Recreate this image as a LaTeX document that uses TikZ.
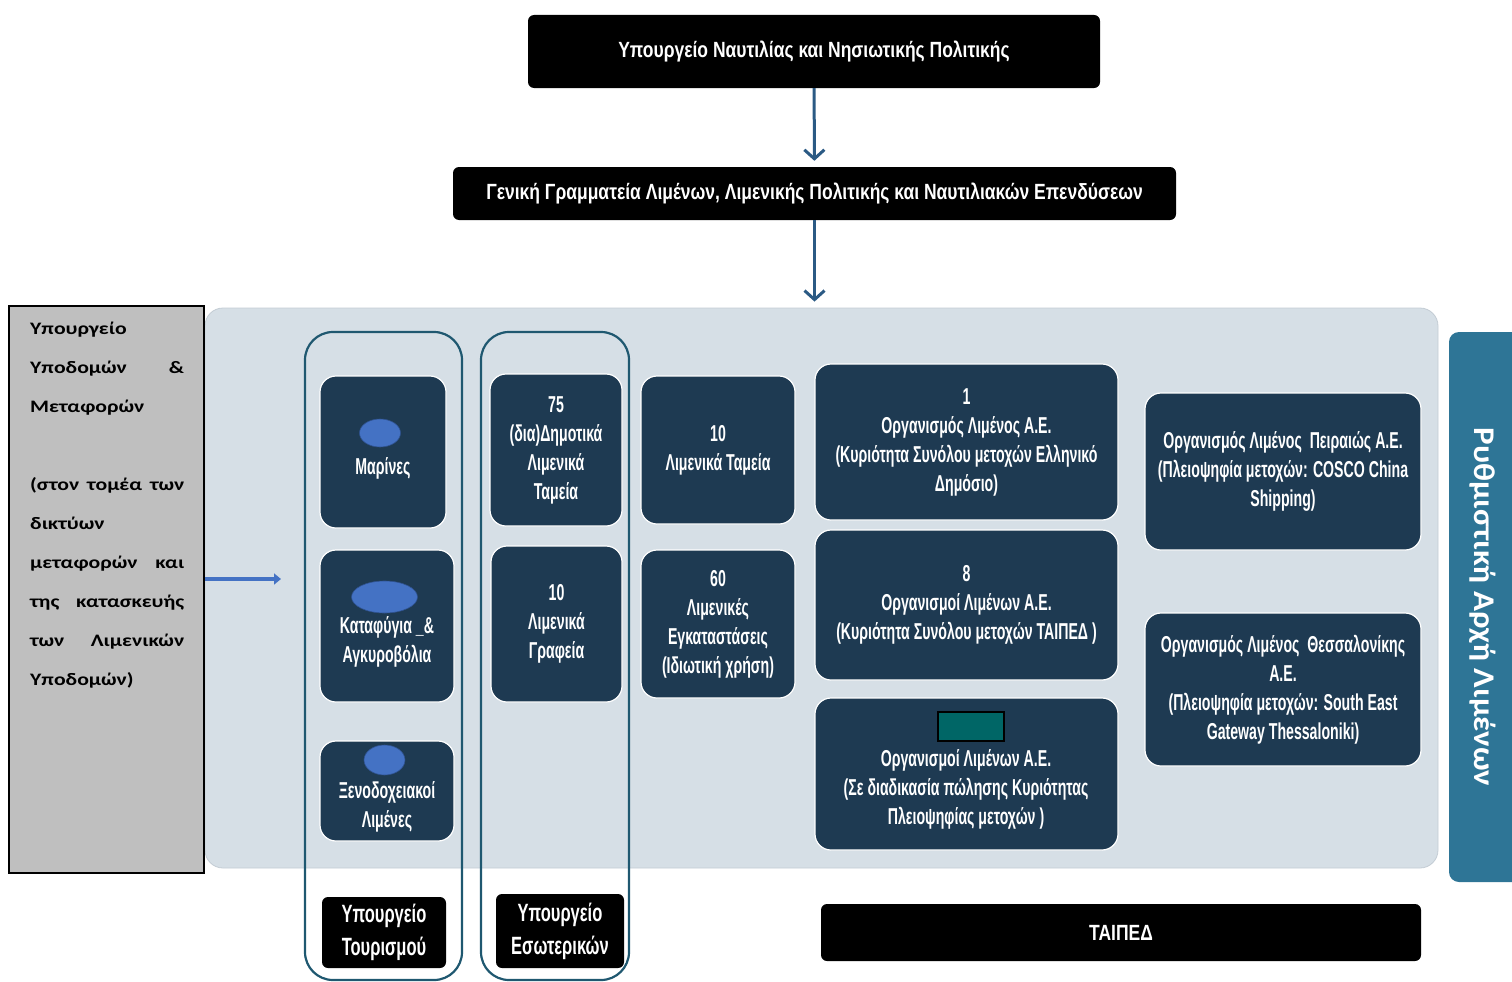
\documentclass[tikz,border=0pt]{standalone}
\usepackage{fontspec}
\setmainfont{Liberation Sans}
\newfontfamily\condfont[FakeStretch=0.615]{Liberation Sans Bold}
\newfontfamily\minfont[FakeStretch=0.66]{Liberation Sans Bold}
\newfontfamily\headfont[FakeStretch=0.795]{Liberation Sans Bold}
\newfontfamily\widefont[FakeStretch=1.24]{Carlito Bold}
\newfontfamily\sidefont[FakeStretch=1.1]{Carlito Bold}
\usetikzlibrary{arrows.meta,positioning,shapes.geometric}

\definecolor{navy}{HTML}{1E3A52}
\definecolor{panelc}{HTML}{D6DFE6}
\definecolor{paneledge}{HTML}{C3CCD4}
\definecolor{colline}{HTML}{1F5870}
\definecolor{regblue}{HTML}{2E7596}
\definecolor{dotblue}{HTML}{4472C4}
\definecolor{dotedge}{HTML}{2F528F}
\definecolor{tealc}{HTML}{006666}
\definecolor{arrowc}{HTML}{2B5A84}
\definecolor{greyc}{HTML}{BFBFBF}

\tikzset{
  blackbox/.style={fill=black, rounded corners=6pt, text=white, inner sep=0pt,
    font=\headfont\fontsize{22}{28}\selectfont},
  navybox/.style={fill=navy, draw=white, line width=1.2pt, rounded corners=16pt,
    inner sep=0pt, text=white, align=center,
    font=\condfont\fontsize{23}{29}\selectfont},
  boxtext/.style={text=white, align=center, inner sep=0pt,
    font=\condfont\fontsize{23}{29}\selectfont},
  minbox/.style={fill=black, rounded corners=6pt, text=white, inner sep=0pt, align=center,
    font=\minfont\fontsize{25}{33}\selectfont},
  colframe/.style={draw=colline, line width=2.2pt, rounded corners=28pt},
  dot/.style={ellipse, fill=dotblue, draw=dotedge, line width=0.6pt, inner sep=0pt},
  navarrow/.style={draw=arrowc, line width=3pt, -{Straight Barb[length=9pt,width=20pt]}, shorten >=6pt},
  bluearrow/.style={draw=dotblue, line width=3.4pt, -{Triangle[length=7pt,width=11pt]}}
}

\begin{document}
\begin{tikzpicture}[x=1pt,y=-1pt]
\useasboundingbox (0,0) rectangle (1512,982);

% ministry and secretariat
\node[blackbox, minimum width=572pt, minimum height=73pt] (top) at (814,51.5)
  {Υπουργείο Ναυτιλίας και Νησιωτικής Πολιτικής};
\node[blackbox, minimum width=723pt, minimum height=53pt] (sec) at (814.5,193.5)
  {Γενική Γραμματεία Λιμένων, Λιμενικής Πολιτικής και Ναυτιλιακών Επενδύσεων};

% big panel
\node[fill=panelc, draw=paneledge, line width=0.8pt, rounded corners=18pt,
  minimum width=1233pt, minimum height=560pt, inner sep=0pt] (panel) at (821.5,588) {};

\draw[navarrow] (top) -- (sec);
\draw[navarrow] (sec.south) -- (sec.south |- panel.north);

% regulator
\node[fill=regblue, rounded corners=10pt, minimum width=91pt, minimum height=550pt,
  inner sep=0pt] (reg) at (1494.5,607) {};
\node[rotate=-90, text=white, inner sep=0pt,
  font=\sidefont\fontsize{30}{36}\selectfont] (regtext) at (1483,607)
  {Ρυθμιστική Αρχή Λιμένων};

% left ministry
\node[fill=greyc, draw=black, line width=1.5pt, minimum width=195pt, minimum height=567pt,
  inner sep=0pt] (grey) at (106.5,589.5) {};
\node[anchor=north west, text width=154pt, align=left, inner sep=0pt,
  font=\widefont\fontsize{17.5}{39}\selectfont] (greytext) at (30,322)
  {Υπουργείο\\
   Υποδομών\hfill\&\\
   Μεταφορών\\[39pt]
   (στον\hfill τομέα\hfill των\\
   δικτύων\\
   μεταφορών\hfill και\\
   της\hfill κατασκευής\\
   των\hfill Λιμενικών\\
   Υποδομών)};
\coordinate (greytip) at (281,579);
\draw[bluearrow] (grey.east |- greytip) -- (greytip);

% columns
\node[colframe, minimum width=157pt, minimum height=648pt, inner sep=0pt] (colA) at (383.5,656) {};
\node[colframe, minimum width=148pt, minimum height=648pt, inner sep=0pt] (colB) at (555,656) {};

% tourism column
\node[navybox, minimum width=126pt, minimum height=152pt] (marinesbox) at (383,452) {};
\node[dot, minimum width=41pt, minimum height=28pt] (marinesdot) at (380,433) {};
\node[boxtext] (marines) at (383,468) {Μαρίνες};

\node[navybox, minimum width=134pt, minimum height=152pt] (katabox) at (387,626) {};
\node[dot, minimum width=66pt, minimum height=32pt] (katadot) at (384.5,597) {};
\node[boxtext] (kata) at (387,642) {Καταφύγια \_\&\\Αγκυροβόλια};

\node[navybox, minimum width=134pt, minimum height=100pt] (xenobox) at (387,791) {};
\node[dot, minimum width=41pt, minimum height=30pt] (xenodot) at (384.5,760) {};
\node[boxtext] (xeno) at (387,807) {Ξενοδοχειακοί\\Λιμένες};

% interior column
\node[navybox, minimum width=132pt, minimum height=152pt] (dimot) at (556,450)
  {75\\(δια)Δημοτικά\\Λιμενικά\\Ταμεία};
\node[navybox, minimum width=131pt, minimum height=156pt] (graf) at (556.5,624)
  {10\\Λιμενικά\\Γραφεία};

% port funds
\node[navybox, minimum width=154pt, minimum height=148pt] (tam) at (718,450)
  {10\\Λιμενικά Ταμεία};
\node[navybox, minimum width=154pt, minimum height=148pt] (egk) at (718,624)
  {60\\Λιμενικές\\Εγκαταστάσεις\\(Ιδιωτική χρήση)};

% port authorities
\node[navybox, minimum width=303pt, minimum height=156pt] (olA) at (966.5,442)
  {1\\Οργανισμός Λιμένος Α.Ε.\\(Κυριότητα Συνόλου μετοχών Ελληνικό\\Δημόσιο)};
\node[navybox, minimum width=303pt, minimum height=150pt] (olB) at (966.5,605)
  {8\\Οργανισμοί Λιμένων Α.Ε.\\(Κυριότητα Συνόλου μετοχών ΤΑΙΠΕΔ )};
\node[navybox, minimum width=303pt, minimum height=152pt] (olC) at (966.5,774) {};
\node[fill=tealc, draw=black, line width=1.2pt, minimum width=66pt, minimum height=29pt,
  inner sep=0pt] (olCmark) at (971,726.5) {};
\node[boxtext] (olCtext) at (966,789)
  {Οργανισμοί Λιμένων Α.Ε.\\(Σε διαδικασία πώλησης Κυριότητας\\Πλειοψηφίας μετοχών )};

\node[navybox, minimum width=276pt, minimum height=157pt] (olp) at (1283,471.5)
  {Οργανισμός Λιμένος\ \ Πειραιώς Α.Ε.\\(Πλειοψηφία μετοχών: COSCO China\\Shipping)};
\node[navybox, minimum width=276pt, minimum height=153pt] (olth) at (1283,689.5)
  {Οργανισμός Λιμένος\ \ Θεσσαλονίκης\\Α.Ε.\\(Πλειοψηφία μετοχών: South East\\Gateway Thessaloniki)};

% bottom owners
\node[minbox, minimum width=124pt, minimum height=71pt] (tour) at (384,932.5)
  {Υπουργείο\\Τουρισμού};
\node[minbox, minimum width=128pt, minimum height=74pt] (esot) at (560,931)
  {Υπουργείο\\Εσωτερικών};
\node[minbox, minimum width=600pt, minimum height=57pt, font=\headfont\fontsize{22}{28}\selectfont]
  (taiped) at (1121,932.5) {ΤΑΙΠΕΔ};
\end{tikzpicture}
\end{document}
